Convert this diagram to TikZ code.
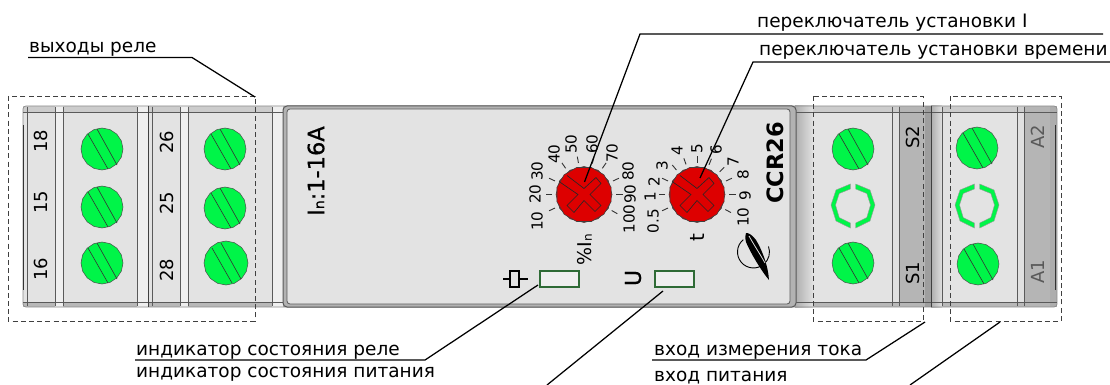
\documentclass[tikz,border=0pt]{standalone}
\usepackage{fontspec}
\setmainfont{DejaVu Sans}
\newfontfamily\semibold[FakeBold=0.6]{DejaVu Sans}
\definecolor{bodygray}{HTML}{E3E3E3}
\definecolor{striplight}{HTML}{EFEFEF}
\definecolor{edgegray}{HTML}{5A5A5A}
\definecolor{darkstrip}{HTML}{B5B5B5}
\definecolor{screwgreen}{HTML}{00F548}
\definecolor{knobred}{HTML}{DD0000}
\definecolor{ledgreen}{HTML}{2F6B36}
\tikzset{
  leader/.style={draw=black,line width=1.25pt},
  dashbox/.style={draw=black!75,dashed,dash pattern=on 5pt off 3.2pt,line width=.7pt},
  edge/.style={draw=edgegray,line width=.7pt},
  callout/.style={anchor=base west,font=\fontsize{18.5}{20}\selectfont,inner sep=0pt},
  termlabel/.style={rotate=90,font=\fontsize{18}{20}\selectfont,inner sep=0pt},
  scalelabel/.style={rotate=90,font=\fontsize{15.2}{17}\selectfont,inner sep=0pt},
  tick/.style={draw=black!80,line width=.9pt},
  led/.style={draw=ledgreen,fill=striplight,line width=1.1pt}
}
\newcommand\screwhead[3]{%
  \begin{scope}[shift={(#1,#2)}]
    \fill[screwgreen,draw=black!70,line width=.5pt] (0:#3)
      \foreach \a in {22.5,45,...,337.5} {-- (\a:#3)} -- cycle;
    \draw[black!80,line width=.6pt] (-14,-15) -- (6,20) (-5,-20) -- (15,16);
  \end{scope}}
\newcommand\screwring[2]{%
  \begin{scope}[shift={(#1,#2)}]
    \fill[screwgreen,draw=black!40,line width=.4pt] (2.7,-22) -- (17,-16) -- (22,-1) -- (17,15) -- (2.7,22) -- (2.7,17) -- (13.8,11.5) -- (17.5,-1) -- (13.8,-12.5) -- (2.7,-17) -- cycle;
    \fill[screwgreen,draw=black!40,line width=.4pt] (-2.7,-22) -- (-17,-16) -- (-22,-1) -- (-17,15) -- (-2.7,22) -- (-2.7,17) -- (-13.8,11.5) -- (-17.5,-1) -- (-13.8,-12.5) -- (-2.7,-17) -- cycle;
  \end{scope}}
\newcommand\knob[2]{%
  \begin{scope}[shift={(#1,#2)}]
    \fill[knobred,draw=black!75,line width=.6pt] (0:28)
      \foreach \a in {30,60,...,330} {-- (\a:28)} -- cycle;
    \fill[knobred,draw=black!75,line width=.6pt] (15:28)
      \foreach \a in {45,75,...,345} {-- (\a:28)} -- cycle;
    \draw[black!85,line width=.65pt] (-17,-19) -- (0,-6) -- (12,-17) -- (17,-11) -- (6,0) -- (17,11) -- (11,17) -- (0,6) -- (-10,18) -- (-17,11) -- (-6,0) -- (-25,-13);
  \end{scope}}
\begin{document}
\begin{tikzpicture}[x=1pt,y=-1pt]
\useasboundingbox (0,0) rectangle (1110,385);
\fill[white] (0,0) rectangle (1110,385);

% housing
\fill[bodygray,rounded corners=3pt] (23,106) rectangle (1057,307);
\fill[black!20] (23,106) rectangle (1057,112);
\fill[black!28] (23,302) rectangle (1057,307);
\foreach \xa/\xb in {55/63,137/148,180/188,272/283}{
  \fill[striplight] (\xa,106) rectangle (\xb,307);
}
\fill[left color=black!32,right color=black!12] (795,106) rectangle (813,307);
\fill[black!12] (892,112) rectangle (899,302);
\fill[darkstrip] (899,106) rectangle (925,307);
\fill[black!38] (925,106) rectangle (931,307);
\fill[left color=black!32,right color=black!12] (931,106) rectangle (942,307);
\fill[black!12] (1017,112) rectangle (1024,302);
\fill[darkstrip] (1024,106) rectangle (1050,307);
\fill[black!32] (1050,106) rectangle (1057,307);
\draw[edge,rounded corners=3pt,draw=black!45] (23,106) rectangle (1057,307);
\draw[edge] (23,112) -- (1057,112) (23,302) -- (1057,302);
\foreach \x in {27,55,63,137,148,152,180,188,272,892,899,931,942,1017,1024}{
  \draw[edge] (\x,107) -- (\x,306);
}
\draw[black!75,line width=1pt] (148,106) -- (148,307) (931,106) -- (931,307);
\draw[black!80,line width=1pt] (23.5,125) -- (23.5,290) (1055.5,125) -- (1055.5,290);
% main panel
\fill[black!30,rounded corners=4pt] (283,106) rectangle (796,307);
\draw[black!65,line width=1pt,rounded corners=4pt] (283,106) rectangle (796,307);
\draw[black!65,fill=bodygray,line width=.8pt,rounded corners=3pt] (287,109) rectangle (790,304);

% dashed frames
\draw[dashbox] (8,96) rectangle (255,321);
\draw[dashbox] (813,96) rectangle (923,321);
\draw[dashbox] (950,96) rectangle (1061,321);

% screws
\screwhead{102}{149}{21}
\screwhead{102}{207}{21}
\screwhead{102}{263}{21}
\screwhead{225}{149}{21}
\screwhead{225}{208}{21}
\screwhead{226}{263}{22}
\screwhead{853}{149}{21}
\screwring{853}{206}
\screwhead{853}{263}{21}
\screwhead{977}{148}{21}
\screwring{977}{206}
\screwhead{978}{264}{21}

% terminal labels
\node[termlabel] (t18) at (41,141) {18};
\node[termlabel] (t15) at (41,202) {15};
\node[termlabel] (t16) at (41,269) {16};
\node[termlabel] (t26) at (167,142) {26};
\node[termlabel] (t25) at (167,203) {25};
\node[termlabel] (t28) at (167,270) {28};
\node[termlabel] (ts2) at (913,137) {S2};
\node[termlabel] (ts1) at (913,273) {S1};
\node[termlabel,text=black!65] (ta2) at (1038,137) {A2};
\node[termlabel,text=black!65] (ta1) at (1038,272) {A1};

% panel texts
\node[rotate=90,inner sep=0pt,font=\semibold\fontsize{22.5}{24}\selectfont] (rating) at (316,171) {I{\fontsize{14}{15}\selectfont n}:1-16A};
\node[rotate=90,inner sep=0pt,font=\bfseries\fontsize{22.5}{24}\selectfont] (model) at (775,163) {CCR26};

% knobs
\knob{584}{194.5}
\knob{697}{194.5}
\foreach \a in {205,180,155,125,100,75,55,25,0,-30}{
  \draw[tick] (584,194.5) ++(-\a:32) -- ++(-\a:6.5);
}
\foreach \a in {205,180,155,130,110,90,68,45,25,0,-28}{
  \draw[tick] (697,194.5) ++(-\a:32) -- ++(-\a:6.5);
}
\foreach \t/\px/\py in {10/537/221,20/535/194,30/537/171,40/554/154,50/571/144,60/592/144,70/612/153,80/628/171,90/630/194,100/629/219}{
  \node[scalelabel] (i\t) at (\px,\py) {\t};
}
\foreach \t/\n/\px/\py in {0.5/a/653/221,1/b/650/197,2/c/654/182,3/d/662/166,4/e/677/151,5/f/697/149,6/g/716/150,7/h/733/162,8/i/743/175,9/j/745/196,10/k/743/217}{
  \node[scalelabel] (s\n) at (\px,\py) {\t};
}
\node[rotate=90,inner sep=0pt,font=\fontsize{19}{20}\selectfont] (pct) at (585,250) {\%I{\fontsize{12}{13}\selectfont n}};
\node[rotate=90,inner sep=0pt,font=\fontsize{20}{22}\selectfont] (tlabel) at (697,238) {t};

% indicators
\node[led,draw,minimum width=39pt,minimum height=16pt,inner sep=0pt] (relayled) at (559.5,279) {};
\node[led,draw,minimum width=39pt,minimum height=16pt,inner sep=0pt] (powerled) at (674.5,279) {};
\draw[black,line width=1.1pt] (503,279) -- (510,279) (519,279) -- (528,279);
\draw[black,line width=1.1pt] (510,271) rectangle (519,287);
\node[rotate=90,inner sep=0pt,font=\semibold\fontsize{22}{24}\selectfont] (ulabel) at (633,278) {U};

% logo
\draw[black,line width=.9pt] (743.2,239.7) arc[start angle=230,end angle=-20,radius=16];
\fill[black] (746,233) .. controls (749,232.5) and (753,236) .. (756,240) .. controls (762,250) and (768,265) .. (769,280) .. controls (762,272) and (750,252) .. (746,242) .. controls (745,238) and (745,235) .. cycle;
\draw[bodygray,line width=.8pt] (749,236) .. controls (754,245) and (760,254) .. (765,263);

% callouts
\node[callout] (out) at (29,53) {выходы реле};
\node[callout] (swi) at (757,28) {переключатель установки I};
\node[callout] (swt) at (759,56) {переключатель установки времени};
\node[callout] (ledr) at (136,355) {индикатор состояния реле};
\node[callout] (ledp) at (136,377) {индикатор состояния питания};
\node[callout] (inm) at (654,355) {вход измерения тока};
\node[callout] (inp) at (654,381) {вход питания};

\coordinate (aout0) at (28,57.5);
\coordinate (aout1) at (192,57.5);
\coordinate (aout2) at (255,97);
\draw[leader] (aout0) -- (aout1) -- (aout2);
\coordinate (aswi0) at (1103,34);
\coordinate (aswi1) at (640,34);
\coordinate (aswi2) at (584.5,182);
\draw[leader] (aswi0) -- (aswi1) -- (aswi2);
\coordinate (aswt0) at (1110,62);
\coordinate (aswt1) at (753,62);
\coordinate (aswt2) at (700,178);
\draw[leader] (aswt0) -- (aswt1) -- (aswt2);
\coordinate (aledr0) at (135,360);
\coordinate (aledr1) at (425,360);
\coordinate (aledr2) at (538,285);
\draw[leader] (aledr0) -- (aledr1) -- (aledr2);
\coordinate (aledp2) at (663,291);
\coordinate (aledp1) at (547,385);
\draw[leader] (aledp1) -- (aledp2);
\coordinate (ainm0) at (652,360);
\coordinate (ainm1) at (866,360);
\coordinate (ainm2) at (925,322);
\draw[leader] (ainm0) -- (ainm1) -- (ainm2);
\coordinate (ainp0) at (910,385);
\coordinate (ainp2) at (1000,322);
\draw[leader] (ainp0) -- (ainp2);
\end{tikzpicture}
\end{document}
